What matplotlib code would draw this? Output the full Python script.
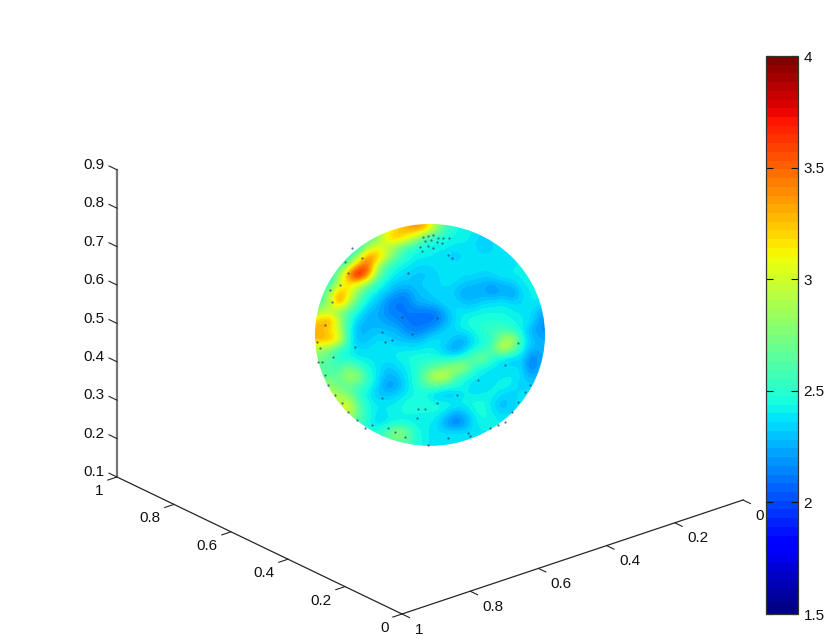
import numpy as np
import matplotlib
matplotlib.use('Agg')
import matplotlib.pyplot as plt
from matplotlib.patches import Ellipse
from matplotlib.colors import Normalize
from matplotlib.cm import ScalarMappable

plt.rcParams['font.family'] = ['Liberation Sans', 'DejaVu Sans']

sphere_values = [
    [2.41,2.41,2.41,2.41,2.41,2.47,2.75,3.0,3.2,3.3,3.4,3.3,2.9,2.58,2.47,2.41,2.41,2.41,2.41,2.41,2.41,2.41,2.41,2.41],
    [2.41,2.41,2.41,2.41,2.47,2.58,2.75,3.2,3.3,3.15,2.9,2.58,2.47,2.47,2.41,2.41,2.39,2.3,2.37,2.37,2.37,2.37,2.37,2.37],
    [2.41,2.41,2.41,2.41,2.41,2.9,3.05,2.95,2.75,2.58,2.47,2.44,2.41,2.41,2.39,2.39,2.39,2.28,2.37,2.39,2.39,2.39,2.39,2.39],
    [2.41,2.41,2.41,2.41,2.9,3.4,3.35,2.95,2.66,2.47,2.41,2.41,2.39,2.37,2.3,2.37,2.39,2.39,2.37,2.35,2.39,2.39,2.39,2.39],
    [2.47,2.47,2.47,2.9,3.4,3.6,2.9,2.58,2.44,2.41,2.37,2.35,2.37,2.39,2.39,2.39,2.39,2.37,2.37,2.35,2.39,2.41,2.41,2.41],
    [2.41,2.41,2.84,3.5,3.9,3.45,2.75,2.47,2.39,2.35,2.3,2.3,2.35,2.37,2.39,2.37,2.37,2.35,2.37,2.41,2.41,2.41,2.41,2.41],
    [2.47,2.47,3.0,3.15,3.0,2.75,2.47,2.39,2.3,2.3,2.3,2.35,2.35,2.37,2.37,2.3,2.28,2.25,2.22,2.28,2.3,2.41,2.41,2.41],
    [2.47,2.9,3.35,3.15,2.75,2.47,2.39,2.3,2.2,2.16,2.28,2.3,2.35,2.35,2.3,2.22,2.25,2.25,2.18,2.25,2.18,2.35,2.41,2.41],
    [2.58,2.9,3.45,2.95,2.58,2.39,2.3,2.16,2.1,2.12,2.25,2.28,2.3,2.37,2.37,2.3,2.28,2.35,2.37,2.39,2.35,2.35,2.41,2.39],
    [2.9,2.95,2.75,2.58,2.44,2.28,2.25,2.16,2.12,2.12,2.12,2.1,2.12,2.25,2.37,2.39,2.41,2.44,2.44,2.44,2.41,2.39,2.37,2.25],
    [3.25,3.4,2.95,2.52,2.3,2.25,2.25,2.22,2.16,2.12,2.1,2.1,2.1,2.22,2.35,2.44,2.47,2.47,2.47,2.47,2.44,2.41,2.37,2.18],
    [3.3,3.15,2.95,2.47,2.25,2.28,2.3,2.28,2.28,2.16,2.12,2.16,2.25,2.35,2.37,2.41,2.44,2.52,2.58,2.58,2.52,2.41,2.25,2.18],
    [3.3,3.35,3.15,2.47,2.28,2.3,2.37,2.35,2.3,2.3,2.25,2.35,2.39,2.37,2.28,2.22,2.39,2.44,2.52,2.84,3.0,2.47,2.3,2.25],
    [2.9,2.75,2.52,2.44,2.35,2.37,2.39,2.39,2.39,2.39,2.39,2.41,2.39,2.3,2.2,2.3,2.44,2.47,2.66,3.05,2.75,2.44,2.28,2.25],
    [2.7,2.66,2.47,2.44,2.39,2.39,2.39,2.39,2.41,2.44,2.47,2.47,2.47,2.44,2.44,2.52,2.66,2.8,2.47,2.37,2.3,2.37,2.1,2.25],
    [2.66,2.58,2.58,2.75,2.58,2.44,2.39,2.3,2.35,2.41,2.47,2.58,2.66,2.75,2.9,2.9,2.52,2.41,2.39,2.37,2.37,2.35,2.08,2.3],
    [2.66,2.66,2.66,2.9,2.84,2.52,2.39,2.25,2.28,2.39,2.47,2.75,3.0,3.05,2.66,2.47,2.41,2.39,2.37,2.39,2.41,2.37,2.25,2.3],
    [2.84,2.84,2.66,2.66,2.58,2.47,2.35,2.18,2.22,2.37,2.47,2.58,2.66,2.52,2.47,2.41,2.37,2.35,2.39,2.44,2.41,2.3,2.35,2.35],
    [2.95,2.95,2.9,2.75,2.52,2.41,2.3,2.3,2.35,2.41,2.44,2.41,2.3,2.28,2.3,2.41,2.39,2.41,2.44,2.35,2.3,2.41,2.41,2.41],
    [2.95,2.95,2.95,3.05,2.66,2.44,2.41,2.41,2.41,2.47,2.47,2.52,2.47,2.47,2.44,2.41,2.47,2.47,2.35,2.25,2.37,2.37,2.37,2.37],
    [2.9,2.9,2.9,3.0,2.66,2.47,2.37,2.39,2.44,2.44,2.44,2.41,2.44,2.37,2.22,2.28,2.41,2.47,2.41,2.35,2.35,2.35,2.35,2.35],
    [2.58,2.58,2.58,2.58,2.66,2.44,2.35,2.39,2.41,2.41,2.41,2.41,2.39,2.22,2.1,2.18,2.37,2.44,2.41,2.41,2.41,2.41,2.41,2.41],
    [2.47,2.47,2.47,2.47,2.47,2.47,2.5,2.62,2.9,2.75,2.47,2.41,2.37,2.37,2.37,2.37,2.39,2.39,2.39,2.39,2.39,2.39,2.39,2.39],
    [2.47,2.47,2.47,2.47,2.47,2.47,2.47,2.62,2.62,2.62,2.47,2.41,2.37,2.39,2.39,2.39,2.39,2.39,2.39,2.39,2.39,2.39,2.39,2.39],
]

# little dark specks on the surface, in picture pixels
speck_x = [423,428,433,438,443,449,425,431,437,442,428,433,420,422,448,452,408,382,412,437,385,355,333,325,
           328,335,342,348,357,365,320,322,317,388,405,428,448,468,490,505,518,525,418,425,417,437,457,478,
           505,518,402,392,362,348,340,332,325,382,345,352,330,318,372,395,470,498,512,530]
speck_y = [237,236,235,238,238,238,241,240,242,243,246,248,247,251,255,258,273,332,334,318,342,347,357,375,
           385,395,403,412,420,428,348,362,342,428,437,445,438,433,428,422,402,392,409,409,418,403,395,380,
           365,343,317,340,258,273,285,302,325,398,262,248,290,362,425,432,436,425,412,385]

z_ticks = [0.1,0.2,0.3,0.4,0.5,0.6,0.7,0.8,0.9]
y_ticks = [0,0.2,0.4,0.6,0.8,1]
x_ticks = [0,0.2,0.4,0.6,0.8,1]
cbar_ticks = [1.5,2,2.5,3,3.5,4]
cbar_min = 1.5
cbar_max = 4

def proj(x, y, z):
    # same view as the original plot, gives picture pixels
    return 743 - 341*x - 285*y, 500 + 114*x - 137*y - 384*(z - 0.1)

def lab(v):
    return '%g' % v

fig = plt.figure(figsize=(8.3, 6.39), dpi=100)
ax = fig.add_axes([0, 0, 1, 1])
ax.set_xlim(0, 830)
ax.set_ylim(639, 0)
ax.axis('off')

jet = plt.get_cmap('jet', 64)
norm = Normalize(cbar_min, cbar_max)

# sphere
cx, cy = proj(0.5, 0.5, 0.5)
rx, ry = 115, 111
im = ax.imshow(sphere_values, cmap=jet, norm=norm, interpolation='bicubic',
               extent=[cx-rx, cx+rx, cy+ry, cy-ry], aspect='auto', zorder=1)
ell = Ellipse((cx, cy), 2*rx, 2*ry, transform=ax.transData, fc='none', ec='none')
ax.add_patch(ell)
im.set_clip_path(ell)
ax.set_xlim(0, 830)
ax.set_ylim(639, 0)
ax.scatter(speck_x, speck_y, s=2.5, c='#2b4a80', alpha=0.8, linewidths=0, zorder=2)

# axis lines
col = '#262626'
p = [proj(1, 1, 0.1), proj(1, 0, 0.1), proj(0, 0, 0.1)]
ax.plot([q[0] for q in p], [q[1] for q in p], color=col, lw=0.9, zorder=3)
a = proj(1, 1, 0.1)
b = proj(1, 1, 0.9)
ax.plot([a[0], b[0]], [a[1], b[1]], color='#777777', lw=1.6, zorder=3)

for v in z_ticks:
    x0, y0 = proj(1, 1, v)
    x1, y1 = proj(1, 1.028, v)
    ax.plot([x0, x1], [y0, y1], color=col, lw=0.8, zorder=3)
    ax.text(x1-5, y1-1, lab(v), ha='right', va='center', fontsize=11, color='#111111')

for v in y_ticks:
    x0, y0 = proj(1, v, 0.1)
    x1, y1 = proj(1.027, v, 0.1)
    ax.plot([x0, x1], [y0, y1], color=col, lw=0.8, zorder=3)
    ax.text(x1-4, y1+11, lab(v), ha='right', va='center', fontsize=11, color='#111111')

for v in x_ticks:
    x0, y0 = proj(v, 0, 0.1)
    x1, y1 = proj(v, -0.026, 0.1)
    ax.plot([x0, x1], [y0, y1], color=col, lw=0.8, zorder=3)
    ax.text(x1+5, y1+12, lab(v), ha='left', va='center', fontsize=11, color='#111111')

# colorbar
cax = fig.add_axes([766/830, 1-614/639, 32/830, 558/639])
cb = fig.colorbar(ScalarMappable(norm=norm, cmap=jet), cax=cax)
cb.set_ticks(cbar_ticks)
cb.set_ticklabels([lab(v) for v in cbar_ticks])
cax.tick_params(axis='y', direction='in', left=True, right=True, length=5, width=0.8,
                labelsize=11, pad=4, colors='#111111')
cb.outline.set_edgecolor('#333333')
cb.outline.set_linewidth(0.9)

fig.savefig('out.png', dpi=100)
